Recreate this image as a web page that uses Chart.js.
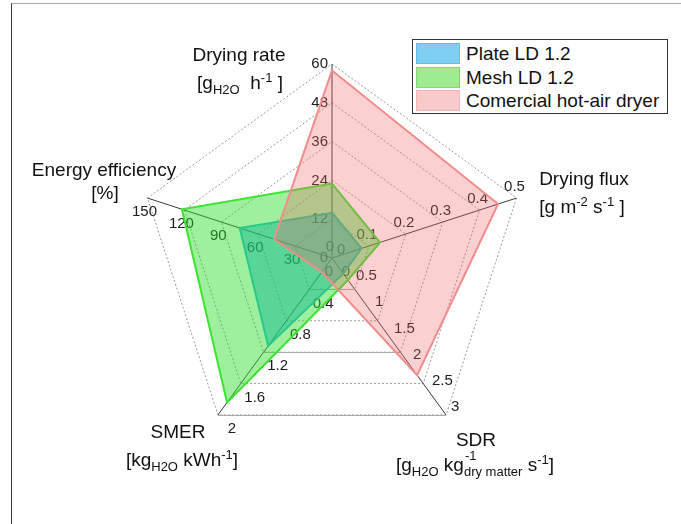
<!DOCTYPE html>
<html>
<head>
<meta charset="utf-8">
<script src="https://cdn.jsdelivr.net/npm/chart.js@4.4.1/dist/chart.umd.min.js"></script>
<style>
  html, body { margin: 0; padding: 0; background: #fff; }
  #wrap { position: relative; width: 681px; height: 524px; overflow: hidden; font-family: "Liberation Sans", Arial, sans-serif; color: #111; }
  #frame { position: absolute; left: 11px; top: 3px; width: 720px; height: 560px; border-top: 1px solid #a8a8a8; border-left: 1px solid #3a3a3a; }
  canvas { position: absolute; left: 0; top: 0; }
  .ttl { position: absolute; white-space: nowrap; font-size: 19px; line-height: 22px; transform: translate(-50%, -50%); }
  .ttl sub { font-size: 13px; vertical-align: -5px; line-height: 0; }
  .ttl sup { font-size: 13px; vertical-align: 7px; line-height: 0; }
  .stack { display: inline-block; position: relative; }
  .stack .lo { font-size: 13px; position: relative; top: 5px; }
  .stack .hi { font-size: 13px; position: absolute; left: 1px; top: -9px; }
  #legend { position: absolute; left: 412px; top: 39px; width: 254px; height: 73px; border: 1px solid #333; background: #fff; }
  .item { position: absolute; left: 3px; height: 21px; font-size: 19px; line-height: 21px; white-space: nowrap; }
  .sw { position: absolute; left: 0; top: 0; width: 42px; height: 19px; border: 1px solid; }
  .item span.t { position: absolute; left: 50px; top: 0; }
</style>
</head>
<body>
<div id="wrap">
  <div id="frame"></div>
  <canvas id="c" width="681" height="524"></canvas>

  <div class="ttl" style="left:239px; top:55px;">Drying rate</div>
  <div class="ttl" style="left:240px; top:83px;">[g<sub>H2O</sub>&nbsp; h<sup>-1</sup> ]</div>

  <div class="ttl" style="left:584px; top:179px;">Drying flux</div>
  <div class="ttl" style="left:582px; top:207px;">[g m<sup>-2</sup> s<sup>-1</sup> ]</div>

  <div class="ttl" style="left:104px; top:170px;">Energy efficiency</div>
  <div class="ttl" style="left:105px; top:193px;">[%]</div>

  <div class="ttl" style="left:178px; top:432px;">SMER</div>
  <div class="ttl" style="left:182px; top:460px;">[kg<sub>H2O</sub> kWh<sup>-1</sup>]</div>

  <div class="ttl" style="left:476px; top:440px;">SDR</div>
  <div class="ttl" style="left:475px; top:466px;">[g<sub>H2O</sub> kg<span class="stack"><span class="lo">dry matter</span><span class="hi">-1</span></span> s<sup>-1</sup>]</div>

  <div id="legend"></div>
</div>

<script>
// Axes, clockwise from the top
const axisNames = ['Drying rate', 'Drying flux', 'SDR', 'SMER', 'Energy efficiency'];
const axisMax = [60, 0.5, 3, 2, 150];

// Tick labels shown along each axis
const ticksDryingRate = [0, 12, 24, 36, 48, 60];
const ticksDryingFlux = [0, 0.1, 0.2, 0.3, 0.4, 0.5];
const ticksSDR = [0, 0.5, 1, 1.5, 2, 2.5, 3];
const ticksSMER = [0, 0.4, 0.8, 1.2, 1.6, 2];
const ticksEfficiency = [0, 30, 60, 90, 120, 150];
const axisTicks = [ticksDryingRate, ticksDryingFlux, ticksSDR, ticksSMER, ticksEfficiency];

// Series values in axis order: drying rate, drying flux, SDR, SMER, energy efficiency
const plateLD = [14, 0.08, 0.3, 1.12, 75];
const meshLD = [23, 0.13, 0.42, 1.84, 122];
const commercialDryer = [58, 0.45, 2.24, 0.18, 47];

const seriesNames = ['Plate LD 1.2', 'Mesh LD 1.2', 'Comercial hot-air dryer'];

// Each axis has its own range, so values are plotted as a fraction of the axis maximum
const toFraction = vals => vals.map((v, i) => v / axisMax[i]);

const styles = [
  { fill: 'rgba(0,160,230,0.50)', line: 'rgb(40,185,215)', swatch: '#80cff2', swBorder: '#5bbfee' },
  { fill: 'rgba(40,220,40,0.45)', line: 'rgb(60,228,50)', swatch: '#9eeb92', swBorder: '#7ade6e' },
  { fill: 'rgba(240,100,100,0.30)', line: 'rgb(242,140,140)', swatch: '#fac9c9', swBorder: '#f6b4b4' }
];

// Per-axis tick label placement relative to the tick position
const tickPlacement = [
  { align: 'right', dx: -4, dy: 0 },
  { align: 'center', dx: -2, dy: -11 },
  { align: 'left', dx: 5, dy: -8 },
  { align: 'center', dx: 14, dy: 14 },
  { align: 'center', dx: -3, dy: 14 }
];

// Levels where the SMER–SDR edge of the web is drawn as a solid line
const solidBaseLevels = [0.2, 0.6, 1.0];

const axisTickLabels = {
  id: 'axisTickLabels',
  beforeDatasetsDraw(chart) {
    const r = chart.scales.r;
    const ctx = chart.ctx;
    ctx.save();
    // solid base edges of the web
    ctx.strokeStyle = '#ababab';
    ctx.lineWidth = 1;
    solidBaseLevels.forEach(f => {
      const a = r.getPointPositionForValue(2, f);
      const b = r.getPointPositionForValue(3, f);
      ctx.beginPath();
      ctx.moveTo(a.x, Math.round(a.y) + 0.5);
      ctx.lineTo(b.x, Math.round(b.y) + 0.5);
      ctx.stroke();
    });
    // per-axis tick labels
    ctx.font = '15px "Liberation Sans", Arial, sans-serif';
    ctx.fillStyle = '#1c1c1c';
    ctx.textBaseline = 'middle';
    axisTicks.forEach((ticks, i) => {
      const pl = tickPlacement[i];
      ctx.textAlign = pl.align;
      ticks.forEach(t => {
        const p = r.getPointPositionForValue(i, t / axisMax[i]);
        ctx.fillText(String(t), p.x + pl.dx, p.y + pl.dy);
      });
    });
    ctx.restore();
  }
};

const datasets = [plateLD, meshLD, commercialDryer].map((vals, k) => ({
  label: seriesNames[k],
  data: toFraction(vals),
  backgroundColor: styles[k].fill,
  borderColor: styles[k].line,
  borderWidth: 2,
  pointRadius: 0,
  fill: true,
  tension: 0,
  order: 3 - k
}));

new Chart(document.getElementById('c'), {
  type: 'radar',
  data: { labels: axisNames, datasets },
  options: {
    responsive: false,
    animation: false,
    layout: { padding: { left: 138, right: 155, top: 64, bottom: 72 } },
    plugins: { legend: { display: false }, tooltip: { enabled: false } },
    elements: { line: { borderJoinStyle: 'miter' } },
    scales: {
      r: {
        min: 0,
        max: 1,
        ticks: { display: false, stepSize: 0.2 },
        pointLabels: { display: false },
        grid: { color: '#9a9a9a', lineWidth: 1, borderDash: [2, 2] },
        border: { dash: [2, 2] },
        angleLines: { color: '#3a3a3a', lineWidth: 1 }
      }
    }
  },
  plugins: [axisTickLabels]
});

// Boxed legend
const legend = document.getElementById('legend');
seriesNames.forEach((name, k) => {
  const item = document.createElement('div');
  item.className = 'item';
  item.style.top = (3 + k * 23.5) + 'px';
  const sw = document.createElement('div');
  sw.className = 'sw';
  sw.style.background = styles[k].swatch;
  sw.style.borderColor = styles[k].swBorder;
  const t = document.createElement('span');
  t.className = 't';
  t.textContent = name;
  item.appendChild(sw);
  item.appendChild(t);
  legend.appendChild(item);
});
</script>
</body>
</html>
